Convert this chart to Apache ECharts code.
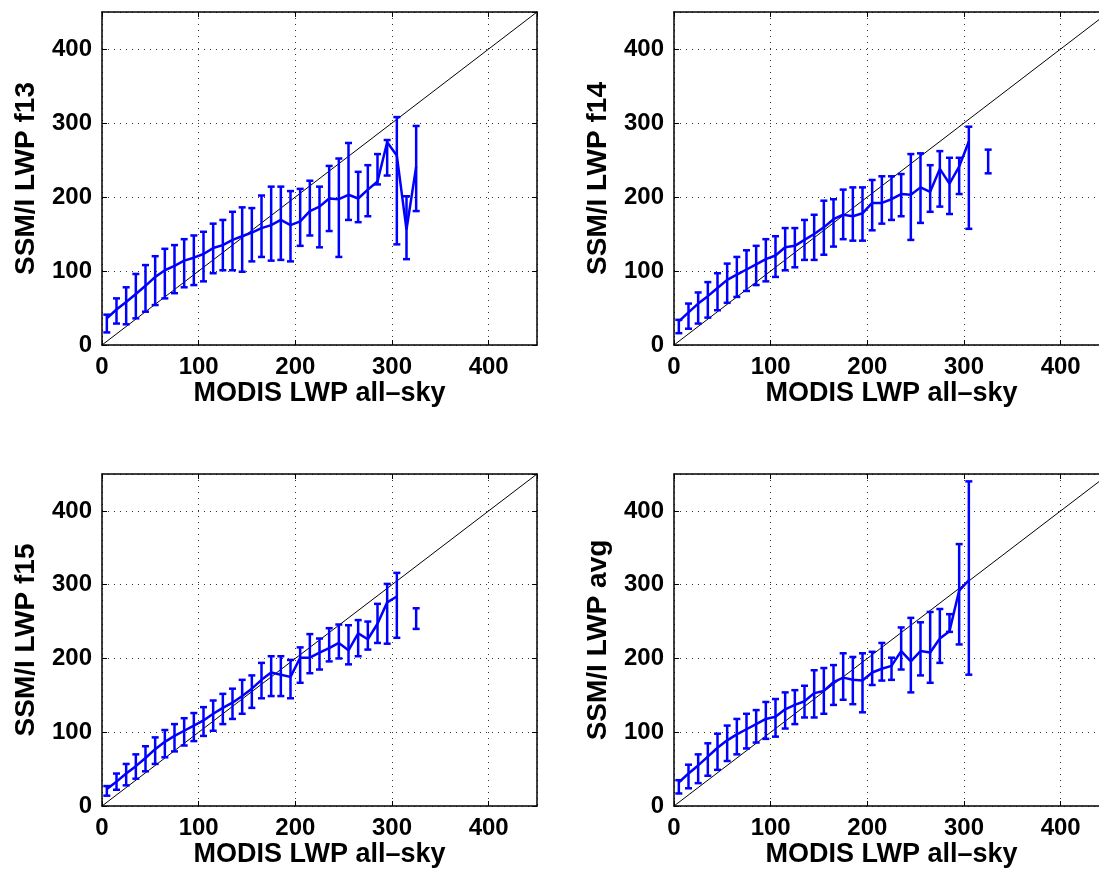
<!DOCTYPE html>
<html>
<head>
<meta charset="utf-8">
<script src="https://cdn.jsdelivr.net/npm/echarts@6/dist/echarts.min.js"></script>
<style>
html,body{margin:0;padding:0;background:#fff;}
#chart{width:1099px;height:873px;}
</style>
</head>
<body>
<div id="chart"></div>
<script>
// ---- data ----
const xBins = [5,15,25,35,45,55,65,75,85,95,105,115,125,135,145,155,165,175,185,195,205,215,225,235,245,255,265,275,285,295,305,315,325];
const axisTicks = [0,100,200,300,400];
const xTitle = 'MODIS LWP all\u2013sky';
const yTitles = ['SSM/I LWP f13','SSM/I LWP f14','SSM/I LWP f15','SSM/I LWP avg'];

const f13Mean = [36,48,58,69,80,92,101,107,114,118,123,131,135,142,147,152,158,162,169,162,167,181,187,198,197,203,198,210,221,274,256,156,241];
const f13Hi   = [41,63,78,96,108,120,130,135,143,148,153,164,169,180,186,185,202,214,214,208,211,222,214,242,252,273,234,243,258,277,308,201,296];
const f13Lo   = [17,29,28,36,45,54,63,70,78,81,86,97,101,101,99,113,119,114,115,113,134,148,132,154,119,169,166,174,217,229,136,116,181];

const f14Mean = [32,44,56,66,77,88,95,102,109,116,121,132,134,142,150,159,170,176,174,178,192,192,197,204,203,213,207,238,218,241,275,null,248];
const f14Hi   = [34,56,71,85,97,110,119,128,134,143,147,158,158,169,176,195,197,210,213,213,223,228,228,231,258,259,243,262,253,253,295,null,264];
const f14Lo   = [16,22,29,37,47,57,65,73,81,86,92,101,105,115,115,122,133,143,141,141,155,164,169,174,142,165,180,187,177,204,157,null,232];

const f15Mean = [23,33,44,54,65,77,87,95,102,109,116,125,133,140,149,159,171,181,178,175,201,201,208,214,221,211,234,226,247,276,284,null,254];
const f15Hi   = [27,44,57,70,81,93,103,111,119,126,134,143,152,159,171,177,194,203,203,198,215,233,227,241,246,245,252,250,274,301,316,null,268];
const f15Lo   = [14,22,28,37,47,57,66,74,82,88,95,102,111,118,125,133,146,149,149,146,167,180,185,196,200,192,203,212,221,220,228,null,240];

const avgMean = [32,44,55,67,79,89,97,104,111,118,121,131,137,142,153,156,168,174,171,170,181,186,190,210,196,210,208,227,237,292,306,null,null];
const avgHi   = [35,56,70,85,98,109,118,125,130,141,145,154,157,163,184,187,191,207,202,207,209,221,201,242,255,249,263,267,260,355,440,null,null];
const avgLo   = [17,24,31,41,49,61,70,78,86,91,94,105,111,120,120,125,137,144,138,127,164,170,171,185,154,177,167,194,236,219,178,null,null];

const panels = [
  {mean:f13Mean, hi:f13Hi, lo:f13Lo},
  {mean:f14Mean, hi:f14Hi, lo:f14Lo},
  {mean:f15Mean, hi:f15Hi, lo:f15Lo},
  {mean:avgMean, hi:avgHi, lo:avgLo}
];
const diag = [[0,0],[450,450]];

// ---- layout ----
const gridPos = [
  {left:102, top:12, width:435, height:333},
  {left:674, top:12, width:435, height:333},
  {left:102, top:474, width:435, height:332},
  {left:674, top:474, width:435, height:332}
];
const FONT = '"Liberation Sans", Arial, Helvetica, sans-serif';
const BLUE = '#0000ff';

const grids = [], xAxes = [], yAxes = [], series = [];
gridPos.forEach((g, i) => {
  grids.push(Object.assign({containLabel:false, outerBoundsMode:'none'}, g));
  const split = {show:true, lineStyle:{color:'#333', width:1, type:[1,5]}};
  const common = {type:'value', min:0, max:450, interval:100, gridIndex:i};
  const tick = {show:true, inside:true, length:5, lineStyle:{color:'#000', width:1}};
  const line = {show:true, onZero:false, lineStyle:{color:'#000', width:1.5}};
  xAxes.push(Object.assign({}, common, {
    position:'bottom', axisLine:line, axisTick:tick,
    axisLabel:{show:true, color:'#000', fontFamily:FONT, fontWeight:'bold', fontSize:24, margin:10, showMaxLabel:false},
    splitLine:split,
    name:xTitle, nameLocation:'middle', nameGap:33,
    nameTextStyle:{color:'#000', fontFamily:FONT, fontWeight:'bold', fontSize:27}
  }));
  xAxes.push(Object.assign({}, common, {
    position:'top', axisLine:line, axisTick:tick,
    axisLabel:{show:false}, splitLine:{show:false}
  }));
  yAxes.push(Object.assign({}, common, {
    position:'left', axisLine:line, axisTick:tick,
    axisLabel:{show:true, color:'#000', fontFamily:FONT, fontWeight:'bold', fontSize:24, margin:10, showMaxLabel:false},
    splitLine:split,
    name:yTitles[i], nameLocation:'middle', nameGap:62,
    nameTextStyle:{color:'#000', fontFamily:FONT, fontWeight:'bold', fontSize:28}
  }));
  yAxes.push(Object.assign({}, common, {
    position:'right', axisLine:line, axisTick:tick,
    axisLabel:{show:false}, splitLine:{show:false}
  }));

  const p = panels[i];
  const xi = 2*i, yi = 2*i;
  // 1:1 line
  series.push({
    type:'line', xAxisIndex:xi, yAxisIndex:yi, data:diag, symbol:'none',
    lineStyle:{color:'#000', width:1}, silent:true, clip:true, z:2
  });
  // mean line
  series.push({
    type:'line', xAxisIndex:xi, yAxisIndex:yi, symbol:'none', connectNulls:false,
    data: xBins.map((x, k) => [x, p.mean[k]]),
    lineStyle:{color:BLUE, width:2.5}, silent:true, z:3
  });
  // error bars
  const eb = [];
  xBins.forEach((x, k) => { if (p.hi[k] != null && p.lo[k] != null) eb.push([x, p.lo[k], p.hi[k]]); });
  series.push({
    type:'custom', xAxisIndex:xi, yAxisIndex:yi, data:eb, silent:true, z:4,
    renderItem:function(params, api){
      const x = api.value(0);
      const a = api.coord([x, api.value(2)]);
      const b = api.coord([x, api.value(1)]);
      const hw = 3.5;
      const st = {stroke:BLUE, lineWidth:2.5};
      return {type:'group', children:[
        {type:'line', shape:{x1:a[0], y1:a[1], x2:b[0], y2:b[1]}, style:st},
        {type:'line', shape:{x1:a[0]-hw, y1:a[1], x2:a[0]+hw, y2:a[1]}, style:st},
        {type:'line', shape:{x1:b[0]-hw, y1:b[1], x2:b[0]+hw, y2:b[1]}, style:st}
      ]};
    }
  });
});

const chart = echarts.init(document.getElementById('chart'), null, {renderer:'canvas'});
chart.setOption({
  animation:false,
  backgroundColor:'#fff',
  grid:grids, xAxis:xAxes, yAxis:yAxes, series:series
});
</script>
</body>
</html>
